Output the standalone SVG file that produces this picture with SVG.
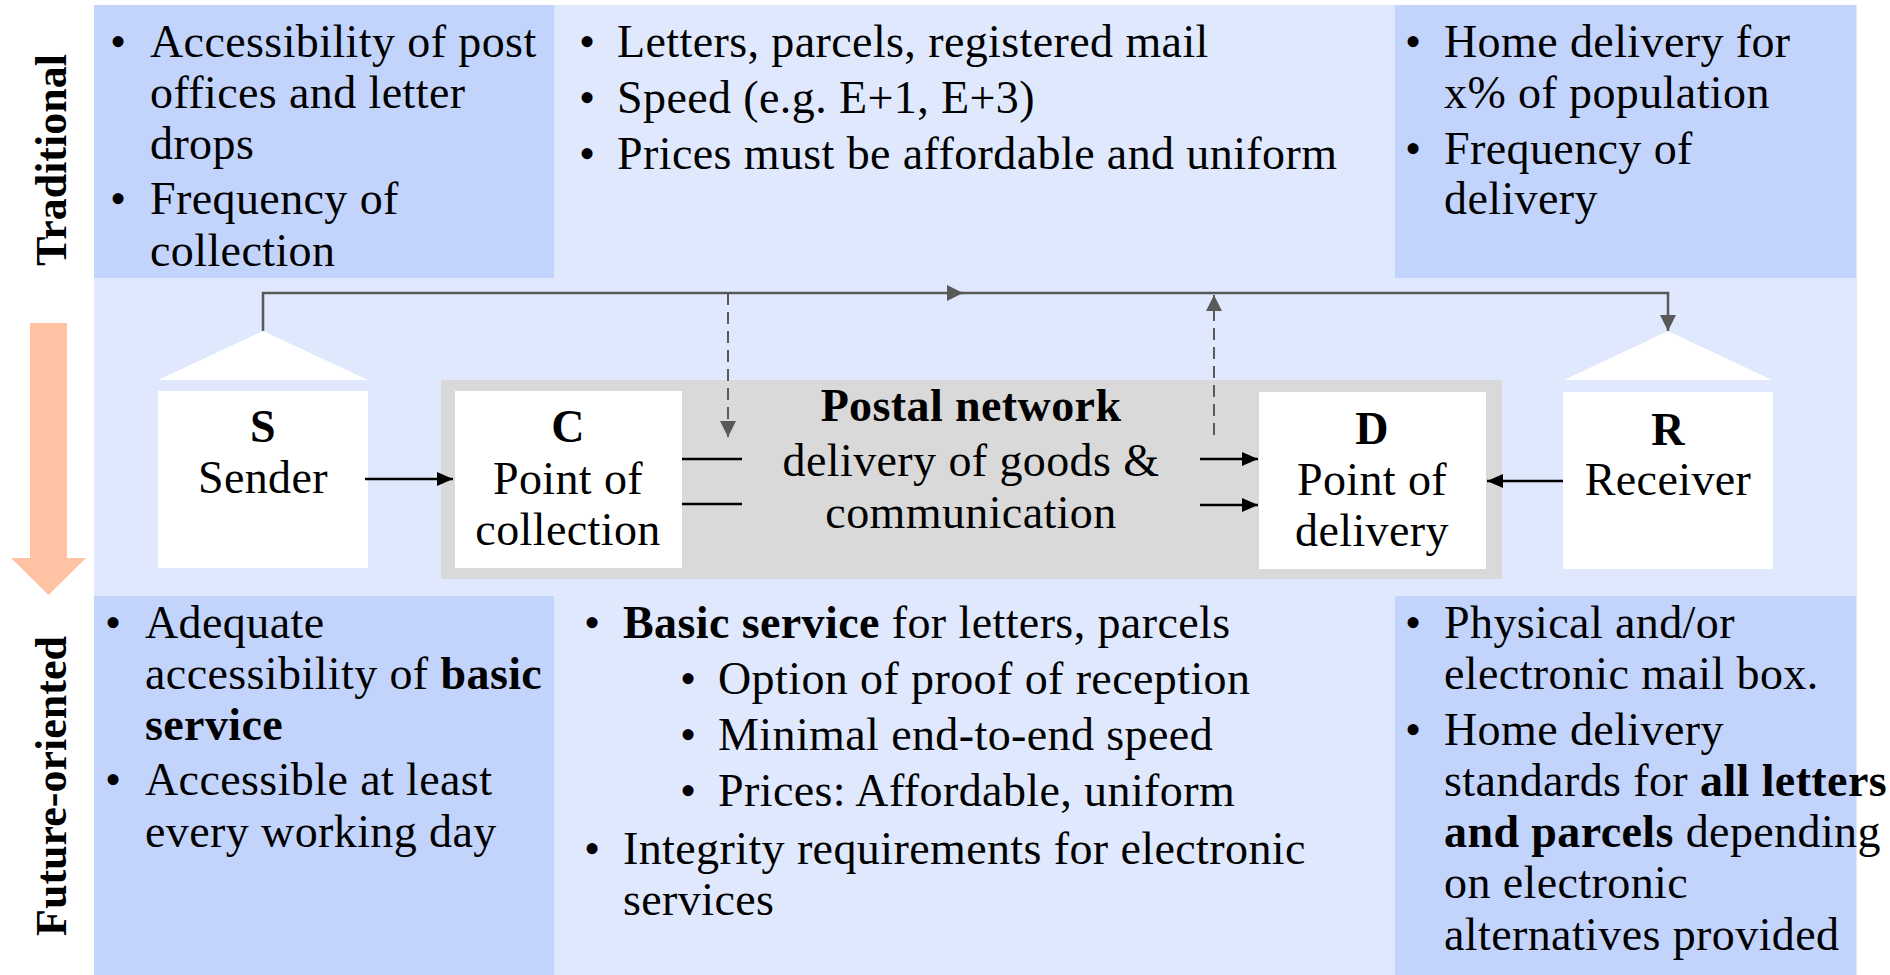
<svg xmlns="http://www.w3.org/2000/svg" width="1890" height="975" viewBox="0 0 1890 975">
  <style>
    text { font-family: "Liberation Serif", "Times New Roman", serif; fill: #000; }
    .body { font-size: 46px; letter-spacing: 0.4px; }
    .b { font-weight: bold; }
    .lbl { font-size: 44px; font-weight: bold; }
    .mid { text-anchor: middle; }
    .dark { fill: #c3d4fc; }
    .light { fill: #dfe8fd; }
    .white { fill: #ffffff; }
    .conn { fill: none; stroke: #595959; stroke-width: 2.5; }
    .dash { stroke-dasharray: 12 7; stroke-width: 2; }
    .flow { fill: none; stroke: #000; stroke-width: 2.5; }
  </style>
  <defs>
    <marker id="grayHead" markerUnits="userSpaceOnUse" markerWidth="18" markerHeight="18" refX="16" refY="8" orient="auto">
      <path d="M0,0 L16,8 L0,16 Z" fill="#595959"/>
    </marker>
    <marker id="blackHead" markerUnits="userSpaceOnUse" markerWidth="18" markerHeight="16" refX="16" refY="7" orient="auto">
      <path d="M0,0 L16,7 L0,14 Z" fill="#000"/>
    </marker>
  </defs>

  <rect width="1890" height="975" fill="#ffffff"/>

  <!-- background band -->
  <rect class="light" x="94" y="5" width="1763" height="970"/>

  <!-- requirement panels -->
  <g id="panel-traditional-sender">
    <rect class="dark" x="94" y="5" width="460" height="273"/>
    <text class="body">
      <tspan x="110" y="57">•</tspan><tspan x="150" y="57">Accessibility of post</tspan>
      <tspan x="150" y="108">offices and letter</tspan>
      <tspan x="150" y="159">drops</tspan>
      <tspan x="110" y="214">•</tspan><tspan x="150" y="214">Frequency of</tspan>
      <tspan x="150" y="266">collection</tspan>
    </text>
  </g>
  <g id="panel-traditional-network">
    <text class="body">
      <tspan x="579" y="57">•</tspan><tspan x="617" y="57">Letters, parcels, registered mail</tspan>
      <tspan x="579" y="113">•</tspan><tspan x="617" y="113">Speed (e.g. E+1, E+3)</tspan>
      <tspan x="579" y="169">•</tspan><tspan x="617" y="169">Prices must be affordable and uniform</tspan>
    </text>
  </g>
  <g id="panel-traditional-receiver">
    <rect class="dark" x="1395" y="5" width="461" height="273"/>
    <text class="body">
      <tspan x="1405" y="57">•</tspan><tspan x="1444" y="57">Home delivery for</tspan>
      <tspan x="1444" y="108">x% of population</tspan>
      <tspan x="1405" y="164">•</tspan><tspan x="1444" y="164">Frequency of</tspan>
      <tspan x="1444" y="214">delivery</tspan>
    </text>
  </g>
  <g id="panel-future-sender">
    <rect class="dark" x="94" y="596" width="460" height="379"/>
    <text class="body">
      <tspan x="105" y="638">•</tspan><tspan x="145" y="638">Adequate</tspan>
      <tspan x="145" y="689">accessibility of <tspan class="b">basic</tspan></tspan>
      <tspan x="145" y="740" class="b">service</tspan>
      <tspan x="105" y="795">•</tspan><tspan x="145" y="795">Accessible at least</tspan>
      <tspan x="145" y="847">every working day</tspan>
    </text>
  </g>
  <g id="panel-future-network">
    <text class="body">
      <tspan x="584" y="638">•</tspan><tspan x="623" y="638"><tspan class="b">Basic service</tspan> for letters, parcels</tspan>
      <tspan x="680" y="694">•</tspan><tspan x="718" y="694">Option of proof of reception</tspan>
      <tspan x="680" y="750">•</tspan><tspan x="718" y="750">Minimal end-to-end speed</tspan>
      <tspan x="680" y="806">•</tspan><tspan x="718" y="806">Prices: Affordable, uniform</tspan>
      <tspan x="584" y="864">•</tspan><tspan x="623" y="864">Integrity requirements for electronic</tspan>
      <tspan x="623" y="915">services</tspan>
    </text>
  </g>
  <g id="panel-future-receiver">
    <rect class="dark" x="1395" y="596" width="461" height="379"/>
    <text class="body">
      <tspan x="1405" y="638">•</tspan><tspan x="1444" y="638">Physical and/or</tspan>
      <tspan x="1444" y="689">electronic mail box.</tspan>
      <tspan x="1405" y="745">•</tspan><tspan x="1444" y="745">Home delivery</tspan>
      <tspan x="1444" y="796">standards for <tspan class="b">all letters</tspan></tspan>
      <tspan x="1444" y="847"><tspan class="b">and parcels</tspan> depending</tspan>
      <tspan x="1444" y="898">on electronic</tspan>
      <tspan x="1444" y="950">alternatives provided</tspan>
    </text>
  </g>

  <!-- row labels and time arrow -->
  <g id="label-traditional">
    <text class="lbl mid" transform="translate(66,160) rotate(-90)">Traditional</text>
  </g>
  <g id="time-arrow">
    <path d="M30,323 H67 V558 H86 L48.5,595 L11,558 H30 Z" fill="#ffc2a2"/>
  </g>
  <g id="label-future">
    <text class="lbl mid" transform="translate(66,786) rotate(-90)">Future-oriented</text>
  </g>

  <!-- postal network -->
  <g id="node-network">
    <rect x="441" y="380" width="1061" height="199" fill="#d9d9d9"/>
    <text class="body mid" x="971" y="421"><tspan class="b">Postal network</tspan></text>
    <text class="body mid" x="971" y="476">delivery of goods &amp;</text>
    <text class="body mid" x="971" y="528">communication</text>
  </g>

  <g id="node-sender">
    <polygon class="white" points="263,331 368,380 158,380"/>
    <rect class="white" x="158" y="391" width="210" height="177"/>
    <text class="body mid b" x="263" y="442">S</text>
    <text class="body mid" x="263" y="493">Sender</text>
  </g>
  <g id="node-collection">
    <rect class="white" x="455" y="391" width="227" height="177"/>
    <text class="body mid b" x="568" y="442">C</text>
    <text class="body mid" x="568" y="494">Point of</text>
    <text class="body mid" x="568" y="545">collection</text>
  </g>
  <g id="node-delivery">
    <rect class="white" x="1259" y="392" width="227" height="177"/>
    <text class="body mid b" x="1372" y="444">D</text>
    <text class="body mid" x="1372" y="495">Point of</text>
    <text class="body mid" x="1372" y="546">delivery</text>
  </g>
  <g id="node-receiver">
    <polygon class="white" points="1668,331 1772,380 1564,380"/>
    <rect class="white" x="1563" y="392" width="210" height="177"/>
    <text class="body mid b" x="1668" y="445">R</text>
    <text class="body mid" x="1668" y="495">Receiver</text>
  </g>

  <!-- connectors -->
  <g id="connectors">
    <path class="conn" d="M263,331 V293 H963" marker-end="url(#grayHead)"/>
    <path class="conn" d="M961,293 H1668 V331" marker-end="url(#grayHead)"/>
    <path class="conn dash" d="M728,293 V437" marker-end="url(#grayHead)"/>
    <path class="conn dash" d="M1214,435 V295" marker-end="url(#grayHead)"/>
    <path class="flow" d="M365,479 H453" marker-end="url(#blackHead)"/>
    <path class="flow" d="M682,459 H742"/>
    <path class="flow" d="M682,504 H742"/>
    <path class="flow" d="M1200,459 H1258" marker-end="url(#blackHead)"/>
    <path class="flow" d="M1200,505 H1258" marker-end="url(#blackHead)"/>
    <path class="flow" d="M1563,481 H1487" marker-end="url(#blackHead)"/>
  </g>
</svg>
